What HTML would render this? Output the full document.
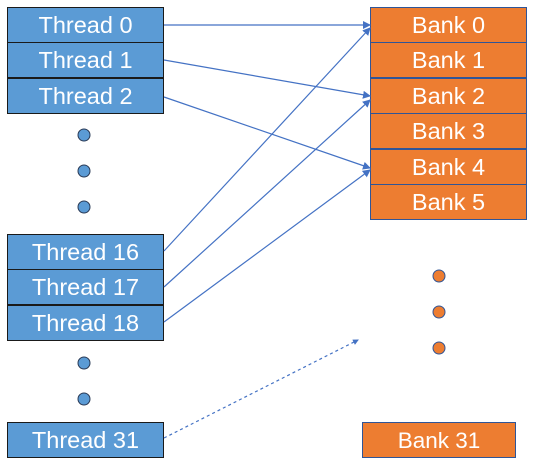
<!DOCTYPE html>
<html><head><style>
body{margin:0;width:533px;height:464px;background:#fff;position:relative;overflow:hidden;font-family:"Liberation Sans",sans-serif}
.b{position:absolute;box-sizing:border-box;color:#fff;text-align:center;font-size:23.5px}
.t{left:7px;width:157px;height:36px;line-height:35px;background:#5b9bd5;border:1.5px solid #1a1a1a}
.k{left:370px;width:157px;height:36px;line-height:35px;background:#ed7d31;border:1.5px solid #2f5597}
</style></head><body>
<div class="b t" style="top:7px">Thread 0</div>
<div class="b t" style="top:42px">Thread 1</div>
<div class="b t" style="top:78px">Thread 2</div>
<div class="b t" style="top:234px">Thread 16</div>
<div class="b t" style="top:269px">Thread 17</div>
<div class="b t" style="top:305px">Thread 18</div>
<div class="b t" style="top:422px">Thread 31</div>
<div class="b k" style="top:7px">Bank 0</div>
<div class="b k" style="top:42px">Bank 1</div>
<div class="b k" style="top:78px">Bank 2</div>
<div class="b k" style="top:113px">Bank 3</div>
<div class="b k" style="top:149px">Bank 4</div>
<div class="b k" style="top:184px">Bank 5</div>
<div class="b k" style="top:422px;left:362px;width:154px;font-size:22.5px">Bank 31</div>
<svg width="533" height="464" style="position:absolute;left:0;top:0">
<defs><marker id="a" markerWidth="8" markerHeight="8" refX="7" refY="4" orient="auto" markerUnits="userSpaceOnUse"><path d="M0,0L8,4L0,8z" fill="#4472c4"/></marker>
<marker id="s" markerWidth="6" markerHeight="6" refX="5" refY="3" orient="auto" markerUnits="userSpaceOnUse"><path d="M0,0L6,3L0,6z" fill="#4472c4"/></marker></defs>
<g stroke="#4472c4" stroke-width="1.2" fill="none">
<line x1="164" y1="25" x2="370" y2="25" marker-end="url(#a)"/>
<line x1="164" y1="60" x2="370" y2="96" marker-end="url(#a)"/>
<line x1="164" y1="97" x2="370" y2="168" marker-end="url(#a)"/>
<line x1="164" y1="251" x2="370" y2="28" marker-end="url(#a)"/>
<line x1="164" y1="287" x2="370" y2="100" marker-end="url(#a)"/>
<line x1="164" y1="322" x2="370" y2="170" marker-end="url(#a)"/>
<line x1="164" y1="438" x2="358" y2="340" stroke-dasharray="3,3" marker-end="url(#s)"/>
</g>
<g fill="#5b9bd5" stroke="#2a3a55" stroke-width="1">
<circle cx="84" cy="135" r="6"/><circle cx="84" cy="171" r="6"/><circle cx="84" cy="207" r="6"/>
<circle cx="84" cy="363" r="6"/><circle cx="84" cy="399" r="6"/>
</g>
<g fill="#ed7d31" stroke="#2f5597" stroke-width="1">
<circle cx="439" cy="276" r="6"/><circle cx="439" cy="312" r="6"/><circle cx="439" cy="348" r="6"/>
</g>
</svg>
</body></html>
